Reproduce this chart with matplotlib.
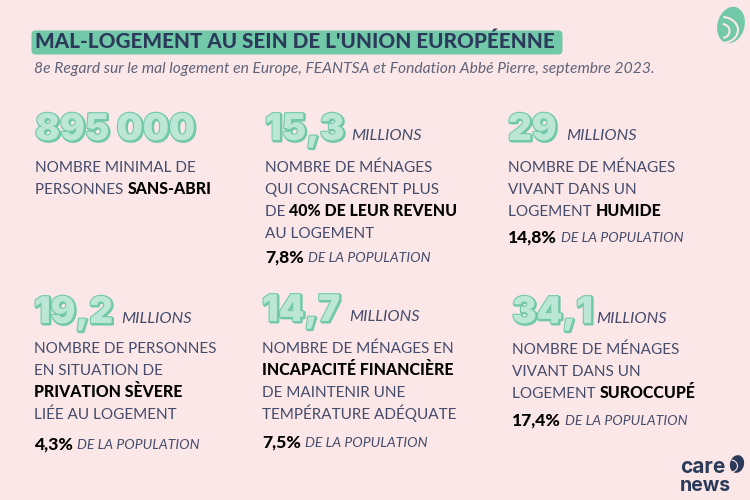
import matplotlib
matplotlib.use("Agg")
import matplotlib.pyplot as plt
import matplotlib.patheffects as pe
from matplotlib.patches import FancyBboxPatch, Ellipse, Arc

plt.rcParams['font.family'] = ['Lato', 'DejaVu Sans']

BG = '#fce7e8'
MINT = '#72c9aa'
MINT_LIGHT = '#bce7d7'
NAVY = '#2c3a5a'
BODY = '#454c6b'
GREY = '#5f6379'

title = "MAL-LOGEMENT AU SEIN DE L'UNION EUROPÉENNE"
subtitle = "8e Regard sur le mal logement en Europe, FEANTSA et Fondation Abbé Pierre, septembre 2023."

numbers = ["895 000", "15,3", "29", "19,2", "14,7", "34,1"]
units = ["", "MILLIONS", "MILLIONS", "MILLIONS", "MILLIONS", "MILLIONS"]
# each line is a list of (text, is_bold) runs
descriptions = [
    [[("NOMBRE MINIMAL DE", False)],
     [("PERSONNES ", False), ("SANS-ABRI", True)]],
    [[("NOMBRE DE MÉNAGES", False)],
     [("QUI CONSACRENT PLUS", False)],
     [("DE ", False), ("40% DE LEUR REVENU", True)],
     [("AU LOGEMENT", False)]],
    [[("NOMBRE DE MÉNAGES", False)],
     [("VIVANT DANS UN", False)],
     [("LOGEMENT ", False), ("HUMIDE", True)]],
    [[("NOMBRE DE PERSONNES", False)],
     [("EN SITUATION DE", False)],
     [("PRIVATION SÈVERE", True)],
     [("LIÉE AU LOGEMENT", False)]],
    [[("NOMBRE DE MÉNAGES EN", False)],
     [("INCAPACITÉ FINANCIÈRE", True)],
     [("DE MAINTENIR UNE", False)],
     [("TEMPÉRATURE ADÉQUATE", False)]],
    [[("NOMBRE DE MÉNAGES", False)],
     [("VIVANT DANS UN", False)],
     [("LOGEMENT ", False), ("SUROCCUPÉ", True)]],
]
shares = ["", "7,8%", "14,8%", "4,3%", "7,5%", "17,4%"]
share_label = "DE LA POPULATION"

# layout, in pixels
x_cell = [35, 265, 508, 34, 262, 512]
y_number = [140, 140, 140, 323, 321, 323]
x_unit = [0, 351, 566, 121, 349, 596]
y_lines = [[172, 194], [172, 194, 216, 238], [172, 194, 216],
           [353, 375, 397, 419], [353, 375, 397, 419], [354, 376, 398]]
y_share = [0, 262, 242, 449, 447, 425]

fig = plt.figure(figsize=(7.5, 5), dpi=100, facecolor=BG)
ax = fig.add_axes([0, 0, 1, 1])
ax.set_xlim(0, 750)
ax.set_ylim(500, 0)
ax.axis('off')
renderer = fig.canvas.get_renderer()


def put_runs(x, y, runs):
    for txt, bold in runs:
        t = ax.text(x, y, txt, fontsize=11.4 if bold else 11,
                    fontweight='black' if bold else 'normal',
                    color='black' if bold else BODY, va='baseline', ha='left')
        x += t.get_window_extent(renderer).width


# title bar
ax.add_patch(FancyBboxPatch((35, 34), 524, 17, boxstyle="round,pad=3.5,rounding_size=4",
                            fc=MINT, ec='none'))
ax.text(35, 47.5, title, fontsize=14.9, fontweight='black', color=NAVY, va='baseline')
ax.text(34, 73, subtitle, fontsize=11.25, style='italic', color=GREY, va='baseline')

# the six figures
for i in range(len(numbers)):
    ax.text(x_cell[i], y_number[i], numbers[i], fontsize=26.5, fontweight='black',
            family=['Inter', 'Lato'], color=MINT_LIGHT, va='baseline',
            path_effects=[pe.Stroke(linewidth=2, foreground=MINT, offset=(0.8, -0.8)),
                          pe.withStroke(linewidth=1.6, foreground=MINT)])
    if units[i]:
        ax.text(x_unit[i], y_number[i], units[i], fontsize=11.8, style='italic',
                color=BODY, va='baseline')
    for y, runs in zip(y_lines[i], descriptions[i]):
        put_runs(x_cell[i], y, runs)
    if shares[i]:
        t = ax.text(x_cell[i], y_share[i], shares[i], fontsize=12.6, fontweight='black',
                    color='black', va='baseline')
        w = t.get_window_extent(renderer).width
        ax.text(x_cell[i] + w + 4, y_share[i], share_label, fontsize=10.1, style='italic',
                color=BODY, va='baseline')

# logo top right
ax.add_patch(Ellipse((731, 25), 27, 37, angle=15, fc=MINT, ec='none'))
ax.add_patch(Arc((722, 30), 32, 26, theta1=-85, theta2=80, color=BG, lw=1.5))
ax.add_patch(Arc((722, 31), 15, 14, theta1=-85, theta2=80, color=BG, lw=1.5))

# logo bottom right
ax.text(680, 473, "care", fontsize=15, fontweight='bold', family=['Inter', 'Lato'],
        color=NAVY, va='baseline')
ax.text(680, 491, "news", fontsize=14, fontweight='bold', family=['Inter', 'Lato'],
        color=NAVY, va='baseline')
ax.add_patch(Ellipse((737, 464), 14, 18, angle=15, fc=NAVY, ec='none'))
ax.add_patch(Arc((731, 466), 13, 12, theta1=-85, theta2=80, color=BG, lw=0.8))

fig.savefig("out.png", dpi=100, facecolor=BG)
